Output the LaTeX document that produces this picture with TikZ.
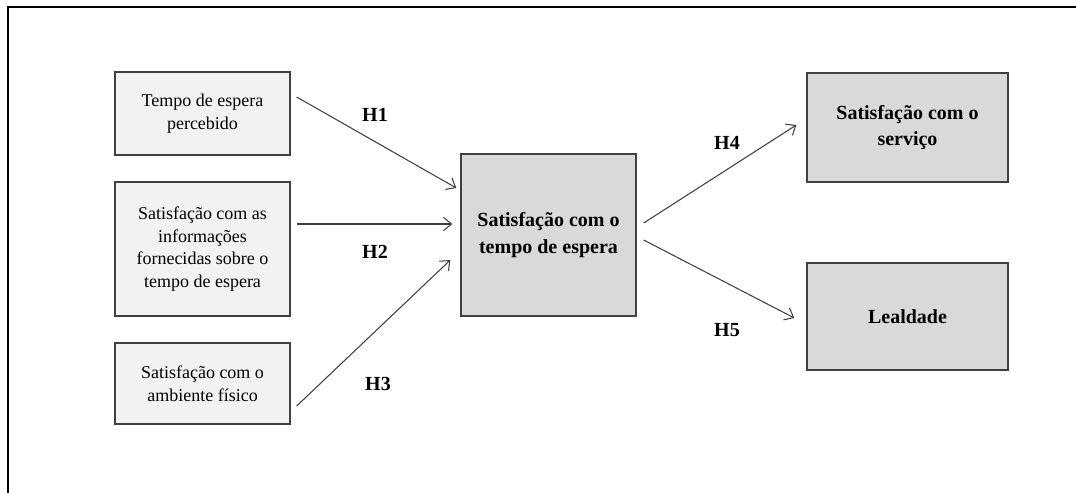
\documentclass[tikz,border=0pt]{standalone}
\usepackage{fontspec}
\setmainfont{Liberation Serif}
\usetikzlibrary{arrows.meta}
\definecolor{lightbox}{HTML}{F2F2F2}
\definecolor{darkbox}{HTML}{D9D9D9}
\definecolor{edge}{HTML}{404040}
\begin{document}
\begin{tikzpicture}[x=0.75pt, y=-0.75pt,
  inbox/.style={rectangle, draw=edge, line width=1pt, fill=lightbox, minimum width=175*0.75pt, align=center, font=\fontsize{13.5}{17}\selectfont, inner sep=0pt},
  outbox/.style={rectangle, draw=edge, line width=1pt, fill=darkbox, align=center, font=\bfseries\fontsize{15}{20}\selectfont, inner sep=0pt},
  hyp/.style={font=\bfseries\fontsize{15}{18}\selectfont},
  link/.style={draw=edge, line width=0.8pt, -{Straight Barb[length=6pt, width=10pt]}}]
  \useasboundingbox (0,0) rectangle (1076,493);
  % Frame
  \draw[line width=2pt] (8,493) -- (8,7) -- (1076,7);
  % Nodes
  \node (tpe) [inbox, minimum height=83*0.75pt] at (202.5, 113.5) {Tempo de espera\\percebido};
  \node (inf) [inbox, minimum height=134*0.75pt] at (202.5, 249) {Satisfação com as\\informações\\fornecidas sobre o\\tempo de espera};
  \node (amb) [inbox, minimum height=81*0.75pt] at (202.5, 383.5) {Satisfação com o\\ambiente físico};
  \node (ste) [outbox, minimum width=175*0.75pt, minimum height=162*0.75pt] at (548.5, 235) {Satisfação com o\\tempo de espera};
  \node (ss) [outbox, minimum width=201*0.75pt, minimum height=109*0.75pt] at (907.5, 127.5) {Satisfação com o\\serviço};
  \node (leal) [outbox, minimum width=201*0.75pt, minimum height=107*0.75pt] at (907.5, 316.5) {Lealdade};
  % Arrows
  \draw[link] ([shift={(6,-16.5)}]tpe.east) -- ([shift={(-4,-47)}]ste.west);
  \draw[link] ([shift={(6,-25)}]inf.east) -- ([shift={(-8,-11)}]ste.west);
  \draw[link] ([shift={(6,22.5)}]amb.east) -- ([shift={(-10,25)}]ste.west);
  \draw[link] ([shift={(7,-12)}]ste.east) -- ([shift={(-10,-2.5)}]ss.west);
  \draw[link] ([shift={(7,5)}]ste.east) -- ([shift={(-12,1.5)}]leal.west);
  % Labels
  \node (h1) [hyp] at (375, 115) {H1};
  \node (h2) [hyp] at (375, 252) {H2};
  \node (h3) [hyp] at (378, 384) {H3};
  \node (h4) [hyp] at (727, 143) {H4};
  \node (h5) [hyp] at (727, 330) {H5};
\end{tikzpicture}
\end{document}
